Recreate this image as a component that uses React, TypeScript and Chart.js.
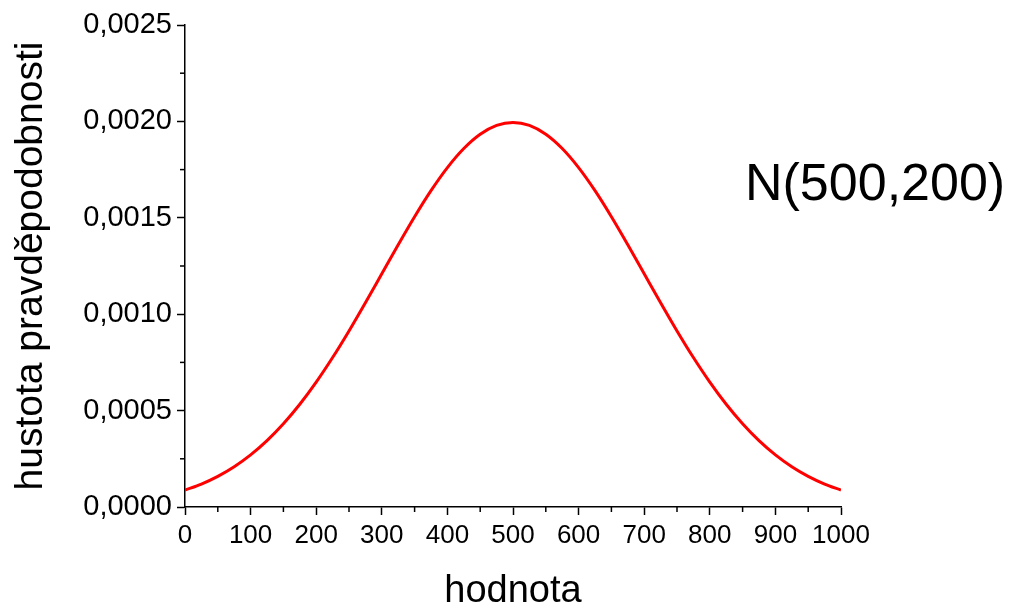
import React, { useEffect, useRef } from "react";
import { Chart, registerables } from "chart.js";

Chart.register(...registerables);

const xValues = [
  0, 25, 50, 75, 100, 125, 150, 175, 200, 225, 250, 275, 300, 325, 350, 375, 400,
  425, 450, 475, 500, 525, 550, 575, 600, 625, 650, 675, 700, 725, 750, 775, 800,
  825, 850, 875, 900, 925, 950, 975, 1000,
];
const densityValues = [
  0.0000876, 0.0001189, 0.0001587, 0.0002086, 0.00027, 0.0003439, 0.0004314,
  0.0005327, 0.0006476, 0.0007751, 0.0009132, 0.0010594, 0.0012099, 0.0013603,
  0.0015057, 0.0016408, 0.0017603, 0.0018593, 0.0019333, 0.0019792, 0.0019947,
  0.0019792, 0.0019333, 0.0018593, 0.0017603, 0.0016408, 0.0015057, 0.0013603,
  0.0012099, 0.0010594, 0.0009132, 0.0007751, 0.0006476, 0.0005327, 0.0004314,
  0.0003439, 0.00027, 0.0002086, 0.0001587, 0.0001189, 0.0000876,
];
const xMinorTicks = [50, 150, 250, 350, 450, 550, 650, 750, 850, 950];
const yMinorTicks = [0.00025, 0.00075, 0.00125, 0.00175, 0.00225];

const FONT = "'Liberation Sans', Arial, Helvetica, sans-serif";

const minorTicksPlugin = {
  id: "minorTicks",
  afterDraw(chart: any) {
    const { ctx, scales } = chart;
    const x = scales.x;
    const y = scales.y;
    ctx.save();
    ctx.strokeStyle = "#000";
    ctx.lineWidth = 1.5;
    xMinorTicks.forEach((v) => {
      const px = x.getPixelForValue(v);
      ctx.beginPath();
      ctx.moveTo(px, x.top);
      ctx.lineTo(px, x.top + 5);
      ctx.stroke();
    });
    yMinorTicks.forEach((v) => {
      const py = y.getPixelForValue(v);
      ctx.beginPath();
      ctx.moveTo(y.right, py);
      ctx.lineTo(y.right - 5, py);
      ctx.stroke();
    });
    ctx.restore();
  },
};

export default function App() {
  const canvasRef = useRef<HTMLCanvasElement | null>(null);

  useEffect(() => {
    const canvas = canvasRef.current;
    if (!canvas) return;
    const chart = new Chart(canvas, {
      type: "line",
      data: {
        datasets: [
          {
            data: xValues.map((x, i) => ({ x, y: densityValues[i] })),
            borderColor: "#ff0000",
            borderWidth: 3,
            pointRadius: 0,
            fill: false,
            cubicInterpolationMode: "monotone",
          },
        ],
      },
      options: {
        animation: false,
        responsive: false,
        layout: { padding: { top: 25, right: 174, left: 0, bottom: 0 } },
        plugins: { legend: { display: false }, tooltip: { enabled: false } },
        scales: {
          x: {
            type: "linear",
            position: "bottom",
            min: 0,
            max: 1000,
            grid: {
              drawOnChartArea: false,
              drawTicks: true,
              tickLength: 8,
              tickWidth: 1.5,
              tickColor: "#000",
            },
            border: { display: true, color: "#000", width: 1.5 },
            ticks: {
              stepSize: 100,
              autoSkip: false,
              maxRotation: 0,
              padding: 5,
              color: "#000",
              font: { family: FONT, size: 26 },
              callback: (v: any) => String(v),
            },
            title: {
              display: true,
              text: "hodnota",
              color: "#000",
              padding: 0,
              font: { family: FONT, size: 38, lineHeight: 0.85 },
            },
            afterFit: (s: any) => {
              s.height = 101;
            },
          },
          y: {
            type: "linear",
            position: "left",
            min: 0,
            max: 0.0025,
            grid: {
              drawOnChartArea: false,
              drawTicks: true,
              tickLength: 8,
              tickWidth: 1.5,
              tickColor: "#000",
            },
            border: { display: true, color: "#000", width: 1.5 },
            ticks: {
              stepSize: 0.0005,
              padding: 5,
              color: "#000",
              font: { family: FONT, size: 29 },
              callback: (v: any) => Number(v).toFixed(4).replace(".", ","),
            },
            title: {
              display: true,
              text: "hustota pravděpodobnosti",
              color: "#000",
              padding: { top: 12, bottom: 0 },
              font: { family: FONT, size: 39, lineHeight: 1 },
            },
            afterFit: (s: any) => {
              s.width = 185;
            },
          },
        },
      },
      plugins: [minorTicksPlugin],
    });
    return () => chart.destroy();
  }, []);

  return (
    <div
      style={{
        position: "fixed",
        left: 0,
        top: 0,
        width: 1015,
        height: 608,
        background: "#fff",
      }}
    >
      <canvas
        ref={canvasRef}
        width={1015}
        height={608}
        style={{ position: "absolute", left: 0, top: 0 }}
      />
      <div
        style={{
          position: "absolute",
          left: 745,
          top: 156,
          fontFamily: FONT,
          fontSize: 52,
          lineHeight: "52px",
          color: "#000",
          whiteSpace: "nowrap",
        }}
      >
        N(500,200)
      </div>
    </div>
  );
}
